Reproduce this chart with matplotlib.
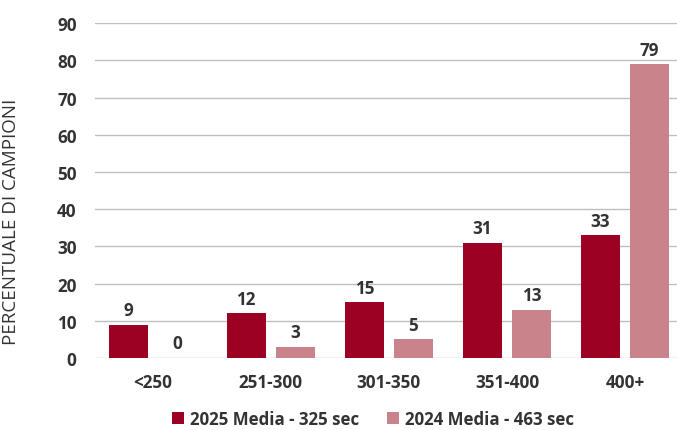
import numpy as np
import matplotlib
matplotlib.use('Agg')
import matplotlib.pyplot as plt

categories = ['<250', '251-300', '301-350', '351-400', '400+']
values_2025 = [9, 12, 15, 31, 33]
values_2024 = [0, 3, 5, 13, 79]
labels = ['2025 Media - 325 sec', '2024 Media - 463 sec']
colors = ['#9C0022', '#C8848A']
txt = '#333333'

plt.rcParams['font.family'] = ['Open Sans', 'DejaVu Sans']

fig = plt.figure(figsize=(6.77, 4.31), dpi=100)
ax = fig.add_axes([0.140, 0.167, 0.860, 0.777])

x = np.arange(len(categories))
w = 0.33
off = 0.208
b1 = ax.bar(x - off, values_2025, w, color=colors[0], label=labels[0], zorder=3)
b2 = ax.bar(x + off, values_2024, w, color=colors[1], label=labels[1], zorder=3)

for bars in (b1, b2):
    for rect in bars:
        h = rect.get_height()
        ax.annotate(f'{h:g}', (rect.get_x() + rect.get_width() / 2, h),
                    xytext=(0, 4), textcoords='offset points', ha='center', va='bottom',
                    fontsize=12.3, fontweight='bold', color=txt)

ax.set_ylim(0, 90)
ax.set_yticks(range(0, 91, 10))
ax.set_xlim(-0.49, 4.44)
ax.set_xticks(x)
ax.set_xticklabels(categories)
ax.tick_params(axis='both', length=0, labelsize=12.3, colors=txt)
ax.tick_params(axis='y', pad=13)
ax.tick_params(axis='x', pad=11)
for lab in ax.get_xticklabels() + ax.get_yticklabels():
    lab.set_fontweight('bold')
ax.grid(axis='y', color='#BFBFBF', linewidth=1, zorder=0)
for s in ax.spines.values():
    s.set_visible(False)

ax.set_ylabel('PERCENTUALE DI CAMPIONI', fontsize=13.5, color=txt)
ax.yaxis.set_label_coords(-0.129, 0.41)

leg = fig.legend(loc='center', bbox_to_anchor=(0.551, 0.026), ncol=2, frameon=False,
                 handlelength=0.75, handleheight=0.75, columnspacing=1.6, handletextpad=0.35,
                 prop={'weight': 'bold', 'size': 12.2})
for t in leg.get_texts():
    t.set_color(txt)

fig.savefig('out.png', dpi=100)
